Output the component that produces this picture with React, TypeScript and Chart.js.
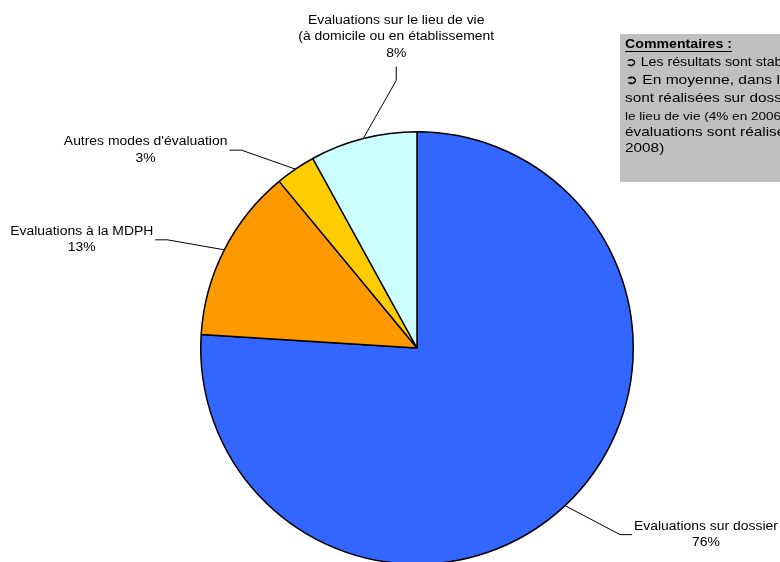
import React, { useEffect, useRef } from "react";
import { Chart, registerables } from "chart.js";

Chart.register(...registerables);

const categories = [
  "Evaluations sur dossier",
  "Evaluations à la MDPH",
  "Autres modes d'évaluation",
  "Evaluations sur le lieu de vie",
];
const labelLines = [
  ["Evaluations sur dossier"],
  ["Evaluations à la MDPH"],
  ["Autres modes d'évaluation"],
  ["Evaluations sur le lieu de vie", "(à domicile ou en établissement"],
];
const values = [76, 13, 3, 8];
const colors = ["#3366FF", "#FF9900", "#FFCC00", "#CCFFFF"];

const commentTitle = "Commentaires :";
const commentLines = [
  { text: "➲ Les résultats sont stables", size: 12, y: 63 },
  { text: "➲ En moyenne, dans l'ensemble", size: 13.2, y: 80 },
  { text: "sont réalisées sur dossier", size: 13, y: 98 },
  { text: "le lieu de vie (4% en 2006", size: 11.5, y: 117 },
  { text: "évaluations sont réalisées", size: 13, y: 132 },
  { text: "2008)", size: 13, y: 148 },
];

// leader line styling: elbow offset from arc point, then tail
const leaders = [
  { ex: 55, ey: 29, dir: "right", len: 12 },
  { ex: -57, ey: -10, dir: "left", len: 12 },
  { ex: -54, ey: -19, dir: "left", len: 12 },
  { ex: 33, ey: -58, dir: "up", len: 14 },
];

const FONT = "Liberation Sans, Arial, sans-serif";
const SX = 1.16;

function drawText(ctx: CanvasRenderingContext2D, s: string, x: number, y: number, align: CanvasTextAlign, sx: number) {
  ctx.save();
  ctx.translate(x, y);
  ctx.scale(sx, 1);
  ctx.textAlign = align;
  ctx.fillText(s, 0, 0);
  ctx.restore();
}

const labelPlugin = {
  id: "pieLabels",
  afterDraw(chart: any) {
    const ctx = chart.ctx as CanvasRenderingContext2D;
    const meta = chart.getDatasetMeta(0);
    ctx.save();
    // comment box
    ctx.fillStyle = "#C0C0C0";
    ctx.fillRect(620, 34, 170, 148);
    ctx.fillStyle = "#000";
    ctx.textBaseline = "middle";
    ctx.font = `bold 12px ${FONT}`;
    drawText(ctx, commentTitle, 625, 45, "left", 1.18);
    const tw = ctx.measureText(commentTitle).width * 1.18;
    ctx.fillRect(625, 51, tw, 1);
    commentLines.forEach((l) => {
      ctx.font = `${l.size}px ${FONT}`;
      drawText(ctx, l.text, 625, l.y, "left", 1.18);
    });

    ctx.font = `12px ${FONT}`;
    ctx.strokeStyle = "#000";
    ctx.lineWidth = 1;
    meta.data.forEach((arc: any, i: number) => {
      const p = arc.getProps(["x", "y", "startAngle", "endAngle", "outerRadius"], true);
      const mid = (p.startAngle + p.endAngle) / 2;
      const ax = p.x + p.outerRadius * Math.cos(mid);
      const ay = p.y + p.outerRadius * Math.sin(mid);
      const L = leaders[i];
      const exx = ax + L.ex;
      const eyy = ay + L.ey;
      let tx = exx, ty = eyy;
      if (L.dir === "right") tx += L.len;
      else if (L.dir === "left") tx -= L.len;
      else ty -= L.len;
      ctx.beginPath();
      ctx.moveTo(ax, ay);
      ctx.lineTo(exx, eyy);
      ctx.lineTo(tx, ty);
      ctx.stroke();
      const lines = [...labelLines[i], `${values[i]}%`];
      const widths = lines.map((s) => ctx.measureText(s).width * SX);
      const maxW = Math.max(...widths);
      const lh = 16.5;
      if (L.dir === "up") {
        lines.forEach((s, k) => {
          drawText(ctx, s, tx, ty - 13 - (lines.length - 1 - k) * lh, "center", SX);
        });
      } else {
        const cx = L.dir === "right" ? tx + 2 + maxW / 2 : tx - 2 - maxW / 2;
        const y0 = ty - ((lines.length - 1) * lh) / 2;
        lines.forEach((s, k) => drawText(ctx, s, cx, y0 + k * lh, "center", SX));
      }
    });
    ctx.restore();
  },
};

export default function App() {
  const ref = useRef<HTMLCanvasElement>(null);
  useEffect(() => {
    if (!ref.current) return;
    const chart = new Chart(ref.current, {
      type: "pie",
      data: {
        labels: categories,
        datasets: [
          {
            data: values,
            backgroundColor: colors,
            borderColor: "#000",
            borderWidth: 1.5,
          },
        ],
      },
      options: {
        responsive: false,
        animation: false,
        layout: { padding: { left: 200, right: 146, top: 131, bottom: 35 } },
        plugins: { legend: { display: false }, tooltip: { enabled: false } },
      },
      plugins: [labelPlugin],
    });
    return () => chart.destroy();
  }, []);
  return (
    <div style={{ position: "fixed", left: 0, top: 0, width: 780, height: 562, overflow: "hidden", background: "#fff" }}>
      <canvas ref={ref} width={780} height={600} style={{ width: 780, height: 600, display: "block" }} />
    </div>
  );
}
